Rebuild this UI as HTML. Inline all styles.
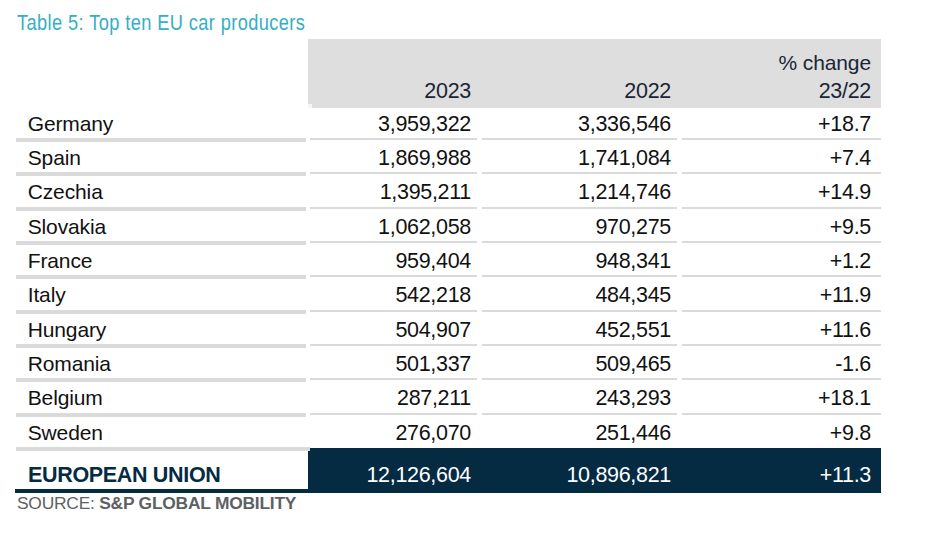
<!DOCTYPE html>
<html><head><meta charset="utf-8">
<style>
html,body{margin:0;padding:0;background:#fff;}
body{width:926px;height:548px;position:relative;overflow:hidden;font-family:"Liberation Sans",sans-serif;}
.a{position:absolute;white-space:nowrap;}
.t{font-size:21.5px;line-height:21px;color:#111;letter-spacing:-0.3px;}
.r{text-align:right;}
.nm{font-size:21px;letter-spacing:-0.12px;}
.hd{color:#1b2634;}
.ln{position:absolute;background:#dadada;}
</style></head><body>

<div class="a" style="left:16.6px;top:11.91px;font-size:22.2px;line-height:22px;color:#35afc4;letter-spacing:0.5px;transform:scaleX(0.82);transform-origin:0 0;">Table 5: Top ten EU car producers</div>
<div class="a" style="left:308px;top:39px;width:573px;height:69px;background:#dedede;"></div>
<div class="a" style="left:308px;top:104px;width:4px;height:4px;background:#f6f6f6;"></div>
<div class="a t r hd" style="right:455.00px;top:80.85px;">2023</div>
<div class="a t r hd" style="right:255.00px;top:80.85px;">2022</div>
<div class="a t r hd" style="right:55.00px;top:80.85px;">23/22</div>
<div class="a t r hd nm" style="right:55.00px;top:52.25px;">% change</div>
<div class="a t nm" style="left:27.7px;top:112.75px;">Germany</div>
<div class="a t r" style="right:455.00px;top:113.75px;">3,959,322</div>
<div class="a t r" style="right:255.00px;top:113.75px;">3,336,546</div>
<div class="a t r" style="right:55.00px;top:113.75px;">+18.7</div>
<div class="ln" style="left:16px;top:138px;width:290px;height:4px;z-index:2;"></div>
<div class="ln" style="left:310px;top:138px;width:167px;height:2px;"></div>
<div class="ln" style="left:482px;top:138px;width:195px;height:2px;"></div>
<div class="ln" style="left:682px;top:138px;width:199px;height:2px;"></div>
<div class="a t nm" style="left:27.7px;top:147.08px;">Spain</div>
<div class="a t r" style="right:455.00px;top:148.08px;">1,869,988</div>
<div class="a t r" style="right:255.00px;top:148.08px;">1,741,084</div>
<div class="a t r" style="right:55.00px;top:148.08px;">+7.4</div>
<div class="ln" style="left:16px;top:172px;width:290px;height:4px;z-index:2;"></div>
<div class="ln" style="left:310px;top:172px;width:167px;height:2px;"></div>
<div class="ln" style="left:482px;top:172px;width:195px;height:2px;"></div>
<div class="ln" style="left:682px;top:172px;width:199px;height:2px;"></div>
<div class="a t nm" style="left:27.7px;top:181.41px;">Czechia</div>
<div class="a t r" style="right:455.00px;top:182.41px;">1,395,211</div>
<div class="a t r" style="right:255.00px;top:182.41px;">1,214,746</div>
<div class="a t r" style="right:55.00px;top:182.41px;">+14.9</div>
<div class="ln" style="left:16px;top:207px;width:290px;height:4px;z-index:2;"></div>
<div class="ln" style="left:310px;top:207px;width:167px;height:2px;"></div>
<div class="ln" style="left:482px;top:207px;width:195px;height:2px;"></div>
<div class="ln" style="left:682px;top:207px;width:199px;height:2px;"></div>
<div class="a t nm" style="left:27.7px;top:215.74px;">Slovakia</div>
<div class="a t r" style="right:455.00px;top:216.74px;">1,062,058</div>
<div class="a t r" style="right:255.00px;top:216.74px;">970,275</div>
<div class="a t r" style="right:55.00px;top:216.74px;">+9.5</div>
<div class="ln" style="left:16px;top:241px;width:290px;height:4px;z-index:2;"></div>
<div class="ln" style="left:310px;top:241px;width:167px;height:2px;"></div>
<div class="ln" style="left:482px;top:241px;width:195px;height:2px;"></div>
<div class="ln" style="left:682px;top:241px;width:199px;height:2px;"></div>
<div class="a t nm" style="left:27.7px;top:250.07px;">France</div>
<div class="a t r" style="right:455.00px;top:251.07px;">959,404</div>
<div class="a t r" style="right:255.00px;top:251.07px;">948,341</div>
<div class="a t r" style="right:55.00px;top:251.07px;">+1.2</div>
<div class="ln" style="left:16px;top:275px;width:290px;height:4px;z-index:2;"></div>
<div class="ln" style="left:310px;top:275px;width:167px;height:2px;"></div>
<div class="ln" style="left:482px;top:275px;width:195px;height:2px;"></div>
<div class="ln" style="left:682px;top:275px;width:199px;height:2px;"></div>
<div class="a t nm" style="left:27.7px;top:284.40px;">Italy</div>
<div class="a t r" style="right:455.00px;top:285.40px;">542,218</div>
<div class="a t r" style="right:255.00px;top:285.40px;">484,345</div>
<div class="a t r" style="right:55.00px;top:285.40px;">+11.9</div>
<div class="ln" style="left:16px;top:310px;width:290px;height:4px;z-index:2;"></div>
<div class="ln" style="left:310px;top:310px;width:167px;height:2px;"></div>
<div class="ln" style="left:482px;top:310px;width:195px;height:2px;"></div>
<div class="ln" style="left:682px;top:310px;width:199px;height:2px;"></div>
<div class="a t nm" style="left:27.7px;top:318.73px;">Hungary</div>
<div class="a t r" style="right:455.00px;top:319.73px;">504,907</div>
<div class="a t r" style="right:255.00px;top:319.73px;">452,551</div>
<div class="a t r" style="right:55.00px;top:319.73px;">+11.6</div>
<div class="ln" style="left:16px;top:344px;width:290px;height:4px;z-index:2;"></div>
<div class="ln" style="left:310px;top:344px;width:167px;height:2px;"></div>
<div class="ln" style="left:482px;top:344px;width:195px;height:2px;"></div>
<div class="ln" style="left:682px;top:344px;width:199px;height:2px;"></div>
<div class="a t nm" style="left:27.7px;top:353.06px;">Romania</div>
<div class="a t r" style="right:455.00px;top:354.06px;">501,337</div>
<div class="a t r" style="right:255.00px;top:354.06px;">509,465</div>
<div class="a t r" style="right:55.00px;top:354.06px;">-1.6</div>
<div class="ln" style="left:16px;top:378px;width:290px;height:4px;z-index:2;"></div>
<div class="ln" style="left:310px;top:378px;width:167px;height:2px;"></div>
<div class="ln" style="left:482px;top:378px;width:195px;height:2px;"></div>
<div class="ln" style="left:682px;top:378px;width:199px;height:2px;"></div>
<div class="a t nm" style="left:27.7px;top:387.39px;">Belgium</div>
<div class="a t r" style="right:455.00px;top:388.39px;">287,211</div>
<div class="a t r" style="right:255.00px;top:388.39px;">243,293</div>
<div class="a t r" style="right:55.00px;top:388.39px;">+18.1</div>
<div class="ln" style="left:16px;top:413px;width:290px;height:4px;z-index:2;"></div>
<div class="ln" style="left:310px;top:413px;width:167px;height:2px;"></div>
<div class="ln" style="left:482px;top:413px;width:195px;height:2px;"></div>
<div class="ln" style="left:682px;top:413px;width:199px;height:2px;"></div>
<div class="a t nm" style="left:27.7px;top:421.72px;">Sweden</div>
<div class="a t r" style="right:455.00px;top:422.72px;">276,070</div>
<div class="a t r" style="right:255.00px;top:422.72px;">251,446</div>
<div class="a t r" style="right:55.00px;top:422.72px;">+9.8</div>
<div class="ln" style="left:16px;top:447px;width:294px;height:4px;z-index:2;"></div>
<div class="a" style="left:308px;top:448px;width:573px;height:44.5px;background:#042b42;"></div>
<div class="a" style="left:15px;top:489px;width:293px;height:3.5px;background:#042b42;"></div>
<div class="a" style="left:28px;top:464.75px;font-size:21.5px;line-height:21px;font-weight:bold;color:#042b42;letter-spacing:-0.33px;">EUROPEAN UNION</div>
<div class="a t r" style="right:455.00px;top:464.75px;color:#fff;">12,126,604</div>
<div class="a t r" style="right:255.00px;top:464.75px;color:#fff;">10,896,821</div>
<div class="a t r" style="right:55.00px;top:464.75px;color:#fff;">+11.3</div>
<div class="a" style="left:17px;top:494.97px;font-size:17.4px;line-height:17px;color:#5e6164;letter-spacing:-0.23px;">SOURCE: <b>S&amp;P GLOBAL MOBILITY</b></div>
</body></html>
